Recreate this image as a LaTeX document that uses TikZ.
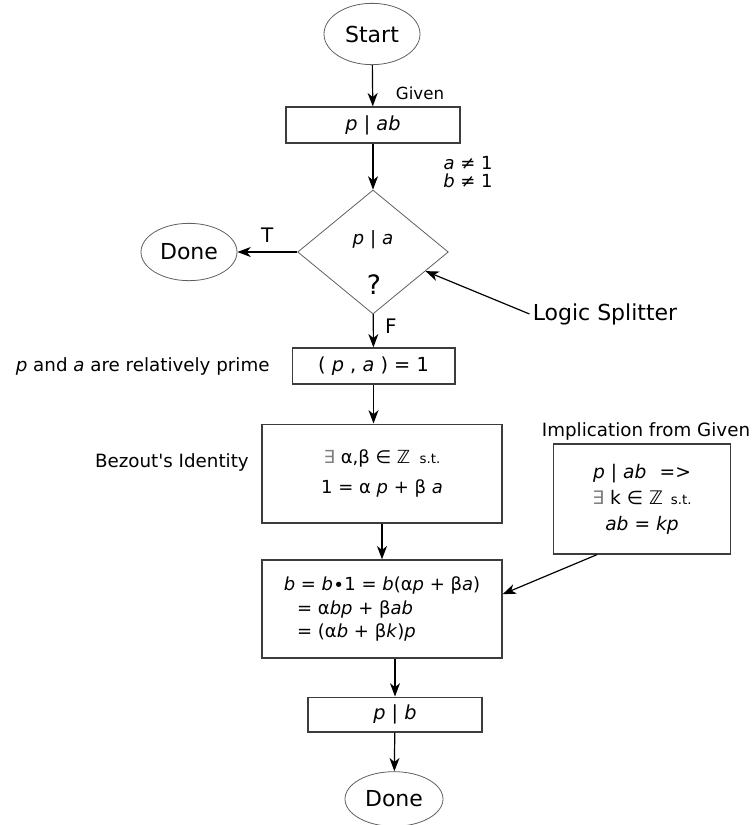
\documentclass[tikz,border=0pt]{standalone}
\usepackage{fontspec}
\setmainfont{DejaVu Sans}
\usepackage{xcolor}
\usetikzlibrary{shapes.geometric,arrows.meta,positioning}
\definecolor{boxline}{RGB}{60,60,60}
\definecolor{thinline}{RGB}{95,95,95}
\newcommand{\mv}[1]{\textit{#1}}
\newcommand{\st}{{\fontsize{10}{12}\selectfont s.t.}}

\begin{document}
\begin{tikzpicture}[x=0.75pt,y=-0.75pt,>={Stealth[length=10pt,width=7.5pt,inset=3pt]},line width=0.9pt]
\tikzset{term/.style={ellipse,draw=thinline,line width=0.6pt,inner sep=0pt,font=\fontsize{16.5}{20}\selectfont},
  procbox/.style={rectangle,draw=boxline,line width=1pt,inner sep=0pt,align=center,font=\fontsize{14.5}{18}\selectfont},
  test/.style={diamond,draw=thinline,line width=0.6pt,inner sep=0pt,minimum width=113pt,minimum height=93pt},
  note/.style={inner sep=2pt,font=\fontsize{13.7}{16}\selectfont}}
\useasboundingbox (0,0) rectangle (753,825);
% main column
\node[term,minimum width=72pt,minimum height=46pt] (start) at (372,34) {Start};
\node[procbox,minimum width=130.5pt,minimum height=27pt] (pab) at (373,125) {\mv{p} | \mv{ab}};
\node[test] (dia) at (373,252) {};
\node[font=\fontsize{13.7}{16}\selectfont] (dtop) at (373,240) {\mv{p} | \mv{a}};
\node[font=\fontsize{20}{24}\selectfont] (dq) at (374,285) {?};
\node[term,minimum width=72pt,minimum height=43pt] (doneA) at (189,252) {Done};
\node[procbox,minimum width=122pt,minimum height=27pt] (pa1) at (373.5,366) {( \mv{p} , \mv{a} ) = 1};
\node[procbox,minimum width=180pt,minimum height=74pt,font=\fontsize{13.5}{17}\selectfont] (bez) at (382,473.5)
 {{\color{black!50}∃} α,β ∈ ℤ\hspace{7pt}\st\\[5pt] 1 = α \mv{p} + β \mv{a}};
\node[procbox,minimum width=180pt,minimum height=73.5pt,align=left,font=\fontsize{13.5}{17.3}\selectfont] (b2) at (382,609)
 {\mv{b} = \mv{b}∙1 = \mv{b}(α\mv{p} + β\mv{a})\\
  \hspace*{10pt}= α\mv{bp} + β\mv{ab}\\
  \hspace*{10pt}= (α\mv{b} + β\mv{k})\mv{p}};
\node[procbox,minimum width=133pt,minimum height=82.5pt,font=\fontsize{14}{19.5}\selectfont] (imp) at (642,499)
 {\mv{p} | \mv{ab}\hspace{10pt}=>\\ {\color{black!50}∃} k ∈ ℤ\hspace{6pt}\st\\ \mv{ab} = \mv{kp}};
\node[procbox,minimum width=130.5pt,minimum height=26pt] (pb) at (395,714.5) {\mv{p} | \mv{b}};
\node[term,minimum width=73.5pt,minimum height=41pt] (doneB) at (394,799) {Done};
% side notes
\node[note,font=\fontsize{12.5}{15}\selectfont] (given) at (420,93) {Given};
\node[note,align=center,font=\fontsize{13.5}{13.5}\selectfont] (neq) at (468,172) {\mv{a} ≠ 1\\ \mv{b} ≠ 1};
\node[note,font=\fontsize{16.5}{20}\selectfont] (split) at (605,314) {Logic Splitter};
\node[note,left=14pt of pa1] (relp) {\mv{p} and \mv{a} are relatively prime};
\node[note,left=7pt of bez,yshift=8pt] (bzid) {Bezout\textquotesingle s Identity};
\node[note,above=0pt of imp,xshift=3pt] (impl) {Implication from Given};
% connectors
\draw[->] (start) -- (pab);
\draw[->] (pab) -- (dia);
\draw[->] (dia) -- node[above=3pt,font=\fontsize{15}{18}\selectfont]{T} (doneA);
\draw[->] (dia) -- node[pos=0.35,right=5pt,font=\fontsize{15}{18}\selectfont]{F} (pa1);
\draw[->] (pa1) -- (pa1 |- bez.north);
\draw[->] (bez) -- (b2);
\draw[->] (b2.south -| pb) -- (pb);
\draw[->] (pb) -- (doneB);
\draw[->] (split.west) -- (dia.-20);
\draw[->] (imp.231) -- (b2.7);
\end{tikzpicture}
\end{document}
